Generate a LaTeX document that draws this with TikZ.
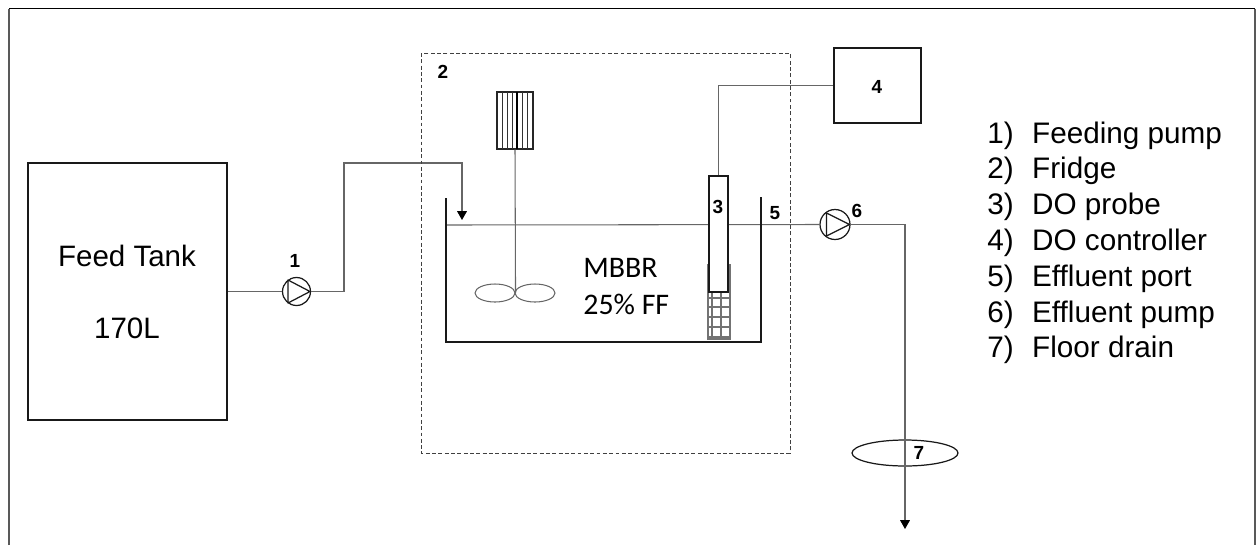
\documentclass[tikz,border=0pt]{standalone}
\usepackage{fontspec}
\setmainfont{Liberation Sans}
\newfontfamily\carlitofont{Carlito}
\usetikzlibrary{arrows.meta,shapes.geometric}
\tikzset{
  pipe/.style={draw=black!60,line width=0.6pt},
  wall/.style={draw=black!90,line width=0.9pt},
  numlabel/.style={font=\fontsize{10.8}{12}\selectfont\bfseries,inner sep=0pt},
  bigtext/.style={font=\fontsize{16.8}{20}\selectfont,inner sep=0pt,anchor=base},
  pumpsym/.style={circle,draw=black!90,line width=0.7pt,fill=white,minimum size=#1,inner sep=0pt},
  flowtip/.style={-{Triangle[black,length=5pt,width=5.5pt]}}
}
\begin{document}
\begin{tikzpicture}[x=0.02cm,y=-0.02cm]
  \useasboundingbox (0,0) rectangle (1256,545);

  % Outer frame, open at the bottom
  \draw[black!65,line width=0.8pt] (9,545) -- (9,8.5);
  \draw[black!65,line width=0.8pt] (1255,8.5) -- (1255,545);
  \draw[black,line width=1pt] (9,8.5) -- (1255,8.5);

  % Feed side
  \node[wall,minimum width=3.98cm,minimum height=5.14cm,inner sep=0pt] (feedtank) at (127.5,291.5) {};
  \node[bigtext] (feedname) at (127,266) {Feed Tank};
  \node[bigtext] (feedvol) at (127,338) {170L};
  \node[pumpsym=0.56cm] (pumpone) at (296.5,291.5) {};
  \node[numlabel] (numone) at (295,261) {1};
  \coordinate (feedbend) at (344,163);
  \coordinate (inlet) at (462,220);
  \draw[pipe] (feedtank.east) -- (pumpone.west);
  \draw[pipe,flowtip] (pumpone.east) -| (feedbend) -| (inlet);

  % Fridge
  \draw[black!75,line width=0.55pt,dashed,dash pattern=on 2.2pt off 1.4pt] (421,53) rectangle (790,453);
  \node[numlabel] (numtwo) at (443,72) {2};

  % Water level and effluent line
  \coordinate (waterin) at (446,225);
  \node[pumpsym=0.6cm] (pumpsix) at (835,224.5) {};
  \draw[pipe] (waterin) -- (pumpsix.west);

  % Reactor
  \draw[wall] (446,198) -- (446,342) -- (761,342) -- (761,197);
  \node[font=\fontsize{17}{20}\selectfont\carlitofont,inner sep=0pt,anchor=base west] (mbbrname) at (583,277) {MBBR};
  \node[font=\fontsize{17}{20}\selectfont\carlitofont,inner sep=0pt,anchor=base west] (mbbrfill) at (583,314) {25\% FF};

  % Mixer
  \node[draw=black!85,line width=0.6pt,minimum width=0.72cm,minimum height=1.14cm,inner sep=0pt] (motor) at (515,120.5) {};
  \foreach \xm in {502,507,512,522,527}
    \draw[black!80,line width=0.5pt] (\xm,92) -- (\xm,149);
  \draw[black,line width=0.7pt] (517,92) -- (517,149);
  \node[ellipse,draw=black!60,line width=0.6pt,minimum width=0.8cm,minimum height=0.36cm,inner sep=0pt] (bladeleft) at (495,293) {};
  \node[ellipse,draw=black!60,line width=0.6pt,minimum width=0.8cm,minimum height=0.36cm,inner sep=0pt] (bladeright) at (535,293) {};
  \draw[pipe] (motor.south) -- (bladeleft.east);

  % Mesh around the probe
  \draw[black!55,line width=0.6pt] (708,265) rectangle (730,339);
  \foreach \xg in {712,721}
    \draw[black!55,line width=0.6pt] (\xg,292) -- (\xg,339);
  \foreach \yg in {298,307,317,327,337}
    \draw[black!55,line width=0.6pt] (708,\yg) -- (730,\yg);

  % DO probe and controller
  \node[wall,fill=white,minimum width=0.38cm,minimum height=2.32cm,inner sep=0pt] (probe) at (718.5,234) {};
  \node[numlabel] (numthree) at (718,207) {3};
  \node[wall,minimum width=1.74cm,minimum height=1.5cm,inner sep=0pt] (dobox) at (877.5,85.5) {};
  \node[numlabel] (numfour) at (877,87) {4};
  \draw[pipe] (probe.north) |- (dobox.west);
  \node[numlabel] (numfive) at (775,213) {5};

  % Effluent pump and drain
  \node[numlabel] (numsix) at (857,211) {6};
  \node[ellipse,draw=black!90,line width=0.7pt,minimum width=2.12cm,minimum height=0.52cm,inner sep=0pt] (drain) at (905,453) {};
  \node[numlabel] (numseven) at (919,453) {7};
  \coordinate (outlet) at (905,529);
  \draw[pipe,flowtip] (pumpsix.east) -| (outlet);

  % Triangles inside the pumps
  \foreach \pumpname/\rr in {pumpone/13.5,pumpsix/14.5}
    \draw[black!90,line width=0.7pt,line join=round] ([shift={(-8.5,-11.5)}]\pumpname.center) -- ([shift={(\rr,0)}]\pumpname.center) -- ([shift={(-8.5,11.5)}]\pumpname.center) -- cycle;

  % Legend
  \foreach \idx/\itemtext in {1/Feeding pump,2/Fridge,3/DO probe,4/DO controller,5/Effluent port,6/Effluent pump,7/Floor drain} {
    \pgfmathsetmacro{\ylegend}{143+35.8*(\idx-1)}
    \node[font=\fontsize{16.9}{20}\selectfont,inner sep=0pt,anchor=base west] (item\idx) at (987,\ylegend) {\makebox[25.5pt][l]{\idx)}\itemtext};
  }
\end{tikzpicture}
\end{document}
